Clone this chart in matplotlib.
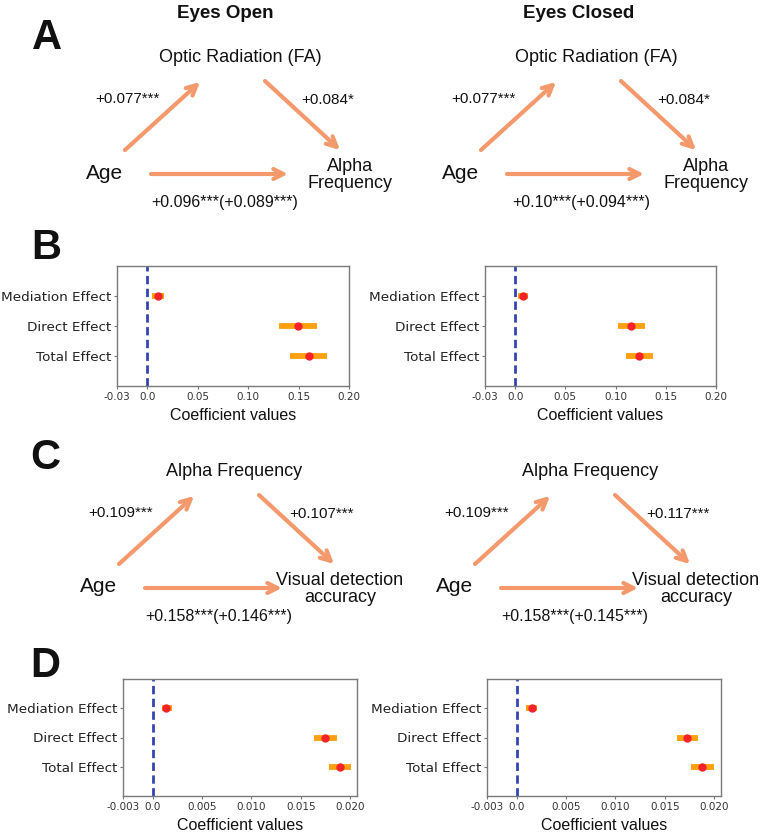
import matplotlib.pyplot as plt

W, H = 760, 834

# ---- data ----
effects = ["Mediation Effect", "Direct Effect", "Total Effect"]

# B: optic radiation -> alpha frequency
b_eo_est = [0.011, 0.149, 0.160]
b_eo_lo = [0.005, 0.131, 0.142]
b_eo_hi = [0.017, 0.168, 0.178]
b_ec_est = [0.008, 0.115, 0.123]
b_ec_lo = [0.003, 0.102, 0.110]
b_ec_hi = [0.013, 0.129, 0.137]

# D: alpha frequency -> visual detection accuracy
d_eo_est = [0.0014, 0.0175, 0.0190]
d_eo_lo = [0.0009, 0.0163, 0.0179]
d_eo_hi = [0.0020, 0.0187, 0.0201]
d_ec_est = [0.0016, 0.0173, 0.0188]
d_ec_lo = [0.0010, 0.0162, 0.0177]
d_ec_hi = [0.0021, 0.0184, 0.0200]

b_ticks = [-0.03, 0.0, 0.05, 0.10, 0.15, 0.20]
b_ticklabels = ["-0.03", "0.0", "0.05", "0.10", "0.15", "0.20"]
d_ticks = [-0.003, 0.0, 0.005, 0.010, 0.015, 0.020]
d_ticklabels = ["-0.003", "0.0", "0.005", "0.010", "0.015", "0.020"]

# path labels for the diagrams
a_eo_paths = ["+0.077***", "+0.084*", "+0.096***(+0.089***)"]
a_ec_paths = ["+0.077***", "+0.084*", "+0.10***(+0.094***)"]
c_eo_paths = ["+0.109***", "+0.107***", "+0.158***(+0.146***)"]
c_ec_paths = ["+0.109***", "+0.117***", "+0.158***(+0.145***)"]

ARROW = "#F4996B"
SANS = "Liberation Sans"

fig = plt.figure(figsize=(W / 100, H / 100), dpi=100)
bg = fig.add_axes([0, 0, 1, 1])
bg.set_xlim(0, W)
bg.set_ylim(H, 0)
bg.axis("off")


def txt(x, y, s, size, bold=False, **kw):
    bg.text(x, y, s, fontsize=size, family=SANS, fontweight="bold" if bold else "normal",
            ha="center", va="center", color="#111111", **kw)


def arrow(p0, p1):
    bg.annotate("", xy=p1, xytext=p0,
                arrowprops=dict(arrowstyle="->,head_length=0.6,head_width=0.3",
                                color=ARROW, lw=3, mutation_scale=12,
                                shrinkA=0, shrinkB=0))


def diagram(dx, dy, top, right, paths, right_x):
    # dx, dy shift relative to the left/A layout
    txt(240 + dx, 57 + dy, top, 13)
    arrow((125 + dx, 150 + dy), (200 + dx, 82 + dy))
    arrow((265 + dx, 81 + dy), (340 + dx, 150 + dy))
    txt(127 + dx, 99 + dy, paths[0], 11)
    txt(328 + dx, 100 + dy, paths[1], 11)
    txt(105 + dx, 173 + dy, "Age", 15)
    arrow((151 + dx, 174 + dy), (288 + dx, 174 + dy))
    txt(right_x + dx, 175 + dy, right, 13, linespacing=1.05)
    txt(225 + dx, 202 + dy, paths[2], 11.5)


txt(225, 13, "Eyes Open", 13.5, bold=True)
txt(579, 13, "Eyes Closed", 13.5, bold=True)
for letter, (x, y) in zip("ABCD", [(47, 38), (46, 248), (45, 458), (45, 666)]):
    txt(x, y, letter, 30, bold=True)

diagram(0, 0, "Optic Radiation (FA)", "Alpha\nFrequency", a_eo_paths, 350)
diagram(356, 0, "Optic Radiation (FA)", "Alpha\nFrequency", a_ec_paths, 350)
diagram(-6, 414, "Alpha Frequency", "Visual detection\naccuracy", c_eo_paths, 346)
diagram(350, 414, "Alpha Frequency", "Visual detection\naccuracy", c_ec_paths, 346)


def forest(box, est, lo, hi, xlim, ticks, ticklabels):
    x0, y0, x1, y1 = box
    ax = fig.add_axes([x0 / W, 1 - y1 / H, (x1 - x0) / W, (y1 - y0) / H])
    ypos = list(range(len(effects)))
    xerr = [[e - l for e, l in zip(est, lo)], [h - e for e, h in zip(est, hi)]]
    ax.errorbar(est, ypos, xerr=xerr, fmt="none", ecolor="#FFA010", elinewidth=4.2, capsize=0, zorder=2)
    ax.plot(est, ypos, "o", color="#F5222A", ms=5, zorder=3)
    ax.axvline(0, color="#3346B0", ls=(0, (3, 1.6)), lw=2, zorder=1)
    ax.set_xlim(*xlim)
    ax.set_ylim(3, -1)
    ax.set_yticks(ypos)
    ax.set_yticklabels(effects, fontsize=9.7, color="#222222")
    ax.set_xticks(ticks)
    ax.set_xticklabels(ticklabels, fontsize=7.5, color="#333333")
    ax.tick_params(axis="y", length=2.5, color="#777777", pad=1.5)
    ax.tick_params(axis="x", length=2.5, color="#777777", pad=2)
    for s in ax.spines.values():
        s.set_color("#7a7a7a")
        s.set_linewidth(1)
    ax.set_xlabel("Coefficient values", fontsize=11.5, family=SANS, labelpad=4, color="#111111")
    return ax


forest((117, 266, 349, 386), b_eo_est, b_eo_lo, b_eo_hi, (-0.03, 0.20), b_ticks, b_ticklabels)
forest((485, 266, 716, 386), b_ec_est, b_ec_lo, b_ec_hi, (-0.03, 0.20), b_ticks, b_ticklabels)
forest((123, 679, 357, 796), d_eo_est, d_eo_lo, d_eo_hi, (-0.003, 0.0207), d_ticks, d_ticklabels)
forest((487, 679, 721, 796), d_ec_est, d_ec_lo, d_ec_hi, (-0.003, 0.0207), d_ticks, d_ticklabels)

fig.savefig("out.png", dpi=100)
